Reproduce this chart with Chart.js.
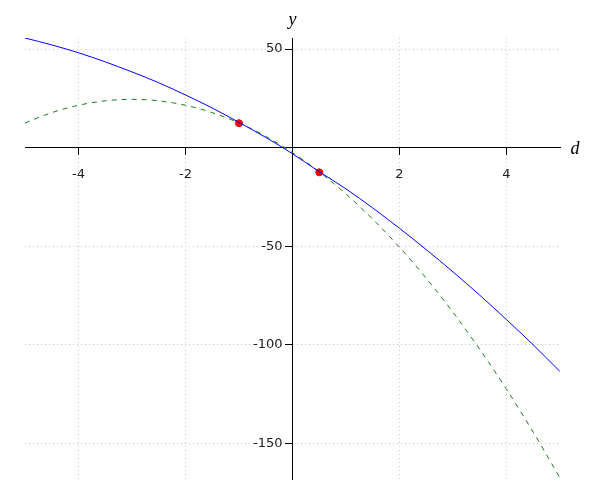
<!DOCTYPE html>
<html>
<head>
<meta charset="utf-8">
<script src="https://cdn.jsdelivr.net/npm/chart.js@4/dist/chart.umd.min.js"></script>
<style>
  body { margin: 0; background: #fff; }
  #wrap { width: 600px; height: 500px; }
</style>
</head>
<body>
<div id="wrap"><canvas id="plot"></canvas></div>
<script>
// values
const dValues = [-5, -4.5, -4, -3.5, -3, -2.5, -2, -1.5, -1, -0.5, 0, 0.5, 1, 1.5, 2, 2.5, 3, 3.5, 4, 4.5, 5];
const blueValues = [55.6, 52.1, 48.1, 43.5, 38.4, 32.9, 26.7, 20.1, 12.8, 5.2, -3.1, -12.2, -20.9, -30.6, -40.9, -51.7, -63.0, -74.8, -87.2, -100.0, -113.5];
const greenValues = [12.5, 17.75, 21.5, 23.75, 24.5, 23.75, 21.5, 17.75, 12.5, 5.75, -2.5, -12.25, -23.5, -36.25, -50.5, -66.25, -83.5, -102.25, -122.5, -144.25, -167.5];
const pointD = [-1, 0.5];
const pointY = [12.4, -12.5];
const xTicks = [-4, -2, 2, 4];
const yTicks = [-150, -100, -50, 50];

const toXY = (xs, ys) => xs.map((x, i) => ({x: x, y: ys[i]}));

// y axis sits at x=0, chart.js puts its labels right on the line, push them left
const shiftYLabels = {
    id: 'shiftYLabels',
    beforeDraw(chart) {
        const items = chart.scales.y.getLabelItems(chart.chartArea);
        if (items._shifted) return;
        items.forEach(it => { it.options.translation[0] -= 10; });
        items._shifted = true;
    }
};

const axisLabels = {
    id: 'axisLabels',
    afterDraw(chart) {
        const c = chart.ctx;
        const x0 = chart.scales.x.getPixelForValue(0);
        const y0 = chart.scales.y.getPixelForValue(0);
        c.save();
        c.fillStyle = '#000';
        c.font = 'italic 18px "Liberation Serif", serif';
        c.textAlign = 'center';
        c.textBaseline = 'middle';
        c.fillText('y', x0, 20);
        c.fillText('d', chart.chartArea.right + 15, y0 + 2);
        c.restore();
    }
};

const tickFont = {family: '"DejaVu Sans", sans-serif', size: 13};

const ctx = document.getElementById('plot').getContext('2d');
const chart = new Chart(ctx, {
    type: 'scatter',
    data: {
        datasets: [{
            data: toXY(dValues, blueValues),
            showLine: true,
            borderColor: '#0000ff',
            borderWidth: 1,
            pointRadius: 0,
            cubicInterpolationMode: 'monotone'
        }, {
            data: toXY(dValues, greenValues),
            showLine: true,
            borderColor: '#1a7f1a',
            borderWidth: 1,
            borderDash: [5, 5],
            pointRadius: 0,
            cubicInterpolationMode: 'monotone'
        }, {
            data: toXY(pointD, pointY),
            showLine: false,
            pointRadius: 3.5,
            pointBackgroundColor: '#ff0000',
            pointBorderColor: '#ff0000',
            pointBorderWidth: 1
        }]
    },
    options: {
        responsive: true,
        maintainAspectRatio: false,
        animation: false,
        layout: {padding: {left: 25, right: 40, top: 38, bottom: 21}},
        plugins: {legend: {display: false}, tooltip: {enabled: false}},
        scales: {
            x: {
                type: 'linear',
                min: -5,
                max: 5,
                position: {y: 0},
                afterFit(s) { s.height = 0; },
                afterBuildTicks(s) { s.ticks = xTicks.map(v => ({value: v})); },
                grid: {color: '#c8c8c8', tickColor: '#000', tickWidth: 1, tickLength: 7, tickBorderDash: []},
                border: {color: '#000', width: 1, dash: [1, 3]},
                ticks: {color: '#222', font: tickFont, padding: 12, maxRotation: 0}
            },
            y: {
                type: 'linear',
                min: -168,
                max: 55.6,
                position: {x: 0},
                afterFit(s) { s.width = 0; },
                afterBuildTicks(s) { s.ticks = yTicks.map(v => ({value: v})); },
                grid: {color: '#c8c8c8', tickColor: '#000', tickWidth: 1, tickLength: 7, tickBorderDash: []},
                border: {color: '#000', width: 1, dash: [1, 3]},
                ticks: {color: '#222', font: tickFont, padding: 5}
            }
        }
    },
    plugins: [shiftYLabels, axisLabels]
});
</script>
</body>
</html>
